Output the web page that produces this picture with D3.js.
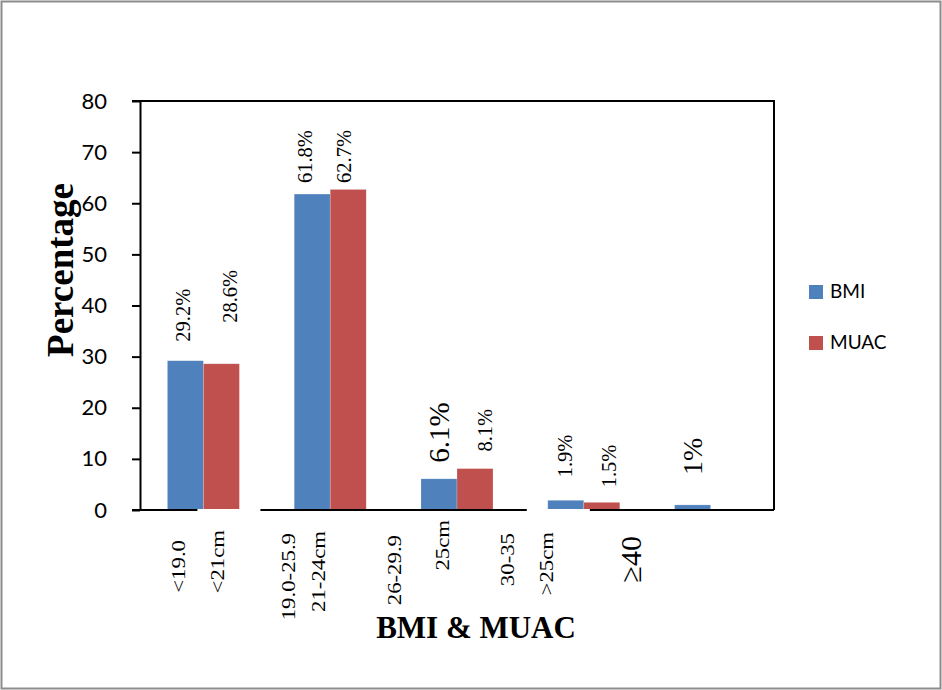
<!DOCTYPE html>
<html>
<head>
<meta charset="utf-8">
<script src="https://cdn.jsdelivr.net/npm/d3@7"></script>
<style>
  html, body { margin: 0; padding: 0; background: #fff; }
  svg { display: block; }
</style>
</head>
<body>
<svg id="chart" width="942" height="690"></svg>
<script>
// ---- data ----
const groups = ["g1", "g2", "g3", "g4", "g5"];
const seriesNames = ["BMI", "MUAC"];
const bmiValues = [29.2, 61.8, 6.1, 1.9, 1];
const muacValues = [28.6, 62.7, 8.1, 1.5, null];
const bmiValueLabels = ["29.2%", "61.8%", "6.1%", "1.9%", "1%"];
const muacValueLabels = ["28.6%", "62.7%", "8.1%", "1.5%", ""];
const bmiCategoryLabels = ["<19.0", "19.0-25.9", "26-29.9", "30-35", "\u226540"];
const muacCategoryLabels = ["<21cm", "21-24cm", "25cm", ">25cm", ""];
const yTicks = [0, 10, 20, 30, 40, 50, 60, 70, 80];

// ---- layout ----
const W = 942, H = 690;
const plot = { left: 140, right: 774, top: 101, bottom: 510 };
const colors = { BMI: "#4F81BD", MUAC: "#C0504D" };
const serif = "'Liberation Serif', 'Times New Roman', serif";
const sans = "Lato, Carlito, Calibri, 'Open Sans', sans-serif";

// hand-placed label text boxes: [dx from bar centre, gap above bar top]
const bmiValueNudge = [[-2.5, 19], [-7, 11], [0, 16], [-1, 23], [0, 30]];
const muacValueNudge = [[8, 41], [-4, 6.5], [10, 17], [7, 15], [0, 0]];
const bmiValueSize = [20.5, 20.5, 29, 20.5, 28];
// category labels: [dx from bar centre, top y]
const bmiCatNudge = [[-7, 540], [-24, 533], [-45, 535], [-58, 533], [-62, 536]];
const muacCatNudge = [[-4, 530], [-30, 531], [-33, 520], [-55, 532]];
const bmiCatSize = [19, 19, 19, 19, 30];
const bmiCatStretch = [1.2, 1.2, 1.2, 1.2, 1];

const svg = d3.select("#chart");

// outer frame
svg.append("rect")
  .attr("x", 1.5).attr("y", 1.5)
  .attr("width", W - 3).attr("height", H - 3)
  .attr("fill", "#fff").attr("stroke", "#8c8c8c").attr("stroke-width", 2);

// ---- scales ----
const x0 = d3.scaleBand().domain(groups).range([plot.left, plot.right]);
const bw = x0.bandwidth();
const x1 = d3.scaleBand().domain(seriesNames).range([bw * 0.216, bw * 0.784]);
const y = d3.scaleLinear().domain([0, 80]).range([plot.bottom, plot.top]);

// ---- bars ----
const rows = groups.map((g, i) => ({ g, i, BMI: bmiValues[i], MUAC: muacValues[i] }));
const gBars = svg.append("g");
rows.forEach(r => {
  seriesNames.forEach(s => {
    const v = r[s];
    if (v == null) return;
    gBars.append("rect")
      .attr("x", x0(r.g) + x1(s))
      .attr("y", y(v))
      .attr("width", x1.bandwidth())
      .attr("height", y(0) - y(v))
      .attr("fill", colors[s])
      .attr("stroke", "rgba(255,255,255,0.35)")
      .attr("stroke-width", 0.6);
  });
});

// ---- frame: top and right ----
svg.append("path")
  .attr("d", `M${plot.left - 8},${plot.top}H${plot.right}V${plot.bottom}`)
  .attr("fill", "none").attr("stroke", "#000").attr("stroke-width", 2);

// ---- y axis ----
const yAxis = d3.axisLeft(y).tickValues(yTicks).tickSize(8).tickSizeOuter(0).tickPadding(25);
const gy = svg.append("g").attr("transform", `translate(${plot.left},0)`).call(yAxis);
gy.select(".domain").attr("stroke", "#000").attr("stroke-width", 2);
gy.selectAll(".tick line").attr("stroke", "#000").attr("stroke-width", 2);
gy.selectAll(".tick text")
  .attr("font-family", sans).attr("font-size", 22).attr("fill", "#000");

// ---- x axis baseline ----
const xAxis = d3.axisBottom(x0).tickSize(0).tickSizeOuter(0).tickFormat("");
const gx = svg.append("g").attr("transform", `translate(0,${plot.bottom})`).call(xAxis);
gx.select(".domain")
  .attr("d", `M${plot.left - 8},0H${plot.right}`)
  .attr("stroke", "#000").attr("stroke-width", 2);

// ---- rotated text helper ----
function rotatedLabel(parent, xPos, yPos, text, size, anchor, stretch) {
  parent.append("text")
    .attr("transform", `translate(${xPos},${yPos}) rotate(-90) scale(${stretch || 1},1)`)
    .attr("dy", "0.35em")
    .attr("text-anchor", anchor)
    .attr("font-family", serif)
    .attr("font-size", size)
    .attr("fill", "#000")
    .text(text);
}

// ---- category labels ----
const gCat = svg.append("g");
groups.forEach((g, i) => {
  const cB = x0(g) + x1("BMI") + x1.bandwidth() / 2;
  const cM = x0(g) + x1("MUAC") + x1.bandwidth() / 2;
  rotatedLabel(gCat, cB + bmiCatNudge[i][0], bmiCatNudge[i][1], bmiCategoryLabels[i],
    bmiCatSize[i], "end", bmiCatStretch[i]);
  if (muacCategoryLabels[i]) {
    const lx = cM + muacCatNudge[i][0];
    // white-filled label boxes for the cm labels sit over the baseline
    if (muacCategoryLabels[i].length === 5) {
      gCat.append("rect")
        .attr("x", lx - 20).attr("y", plot.bottom - 1)
        .attr("width", 63).attr("height", 4)
        .attr("fill", "#fff");
    }
    rotatedLabel(gCat, lx, muacCatNudge[i][1], muacCategoryLabels[i], 19, "end", 1.2);
  }
});

// ---- value labels ----
const gVal = svg.append("g");
groups.forEach((g, i) => {
  const cB = x0(g) + x1("BMI") + x1.bandwidth() / 2;
  const cM = x0(g) + x1("MUAC") + x1.bandwidth() / 2;
  rotatedLabel(gVal, cB + bmiValueNudge[i][0], y(bmiValues[i]) - bmiValueNudge[i][1],
    bmiValueLabels[i], bmiValueSize[i], "start");
  if (muacValues[i] != null) {
    rotatedLabel(gVal, cM + muacValueNudge[i][0], y(muacValues[i]) - muacValueNudge[i][1],
      muacValueLabels[i], 20.5, "start");
  }
});

// ---- axis titles ----
svg.append("text")
  .attr("transform", `translate(60,270) rotate(-90)`)
  .attr("dy", "0.35em")
  .attr("text-anchor", "middle")
  .attr("font-family", serif).attr("font-weight", "bold").attr("font-size", 37)
  .text("Percentage");

svg.append("text")
  .attr("x", 476).attr("y", 638)
  .attr("text-anchor", "middle")
  .attr("font-family", serif).attr("font-weight", "bold").attr("font-size", 31)
  .text("BMI & MUAC");

// ---- legend ----
const legend = svg.append("g").attr("transform", "translate(809,285)");
seriesNames.forEach((s, i) => {
  const row = legend.append("g").attr("transform", `translate(0,${i * 51})`);
  row.append("rect").attr("width", 14).attr("height", 14).attr("fill", colors[s]);
  row.append("text")
    .attr("x", 21).attr("y", 13)
    .attr("font-family", sans).attr("font-size", 19).attr("fill", "#000")
    .text(s);
});
</script>
</body>
</html>
